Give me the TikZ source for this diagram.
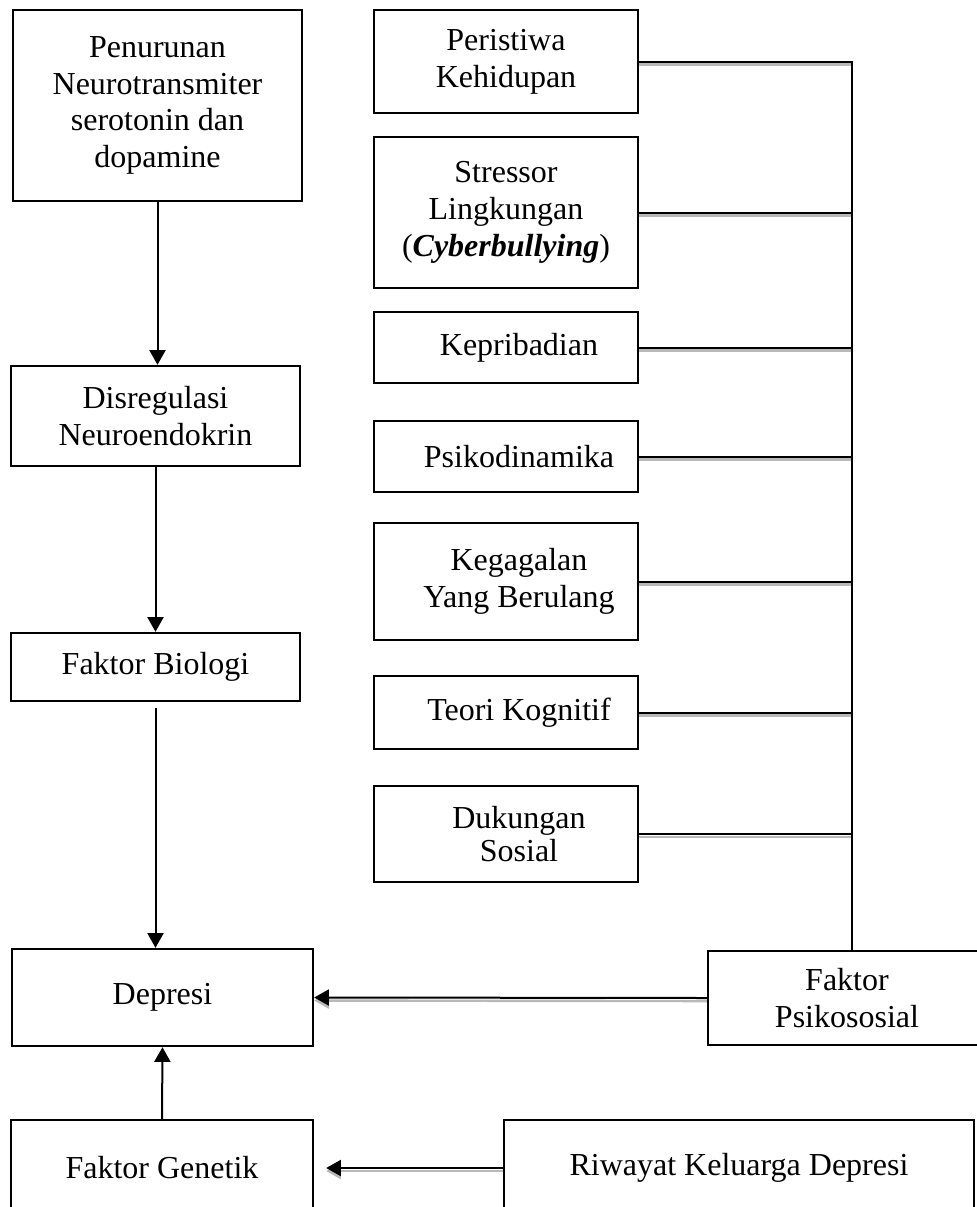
\documentclass[tikz,border=0pt]{standalone}
\usepackage{fontspec}
\setmainfont{Liberation Serif}
\usetikzlibrary{arrows.meta}

\newcommand{\geser}{\hspace*{19.5pt}}

\tikzset{
  kotak/.style 2 args={draw,line width=1.8pt,align=center,inner sep=0pt,font=\fontsize{24}{27.5}\selectfont,minimum width=#1*0.75pt,minimum height=#2*0.75pt},
  panah/.style={line width=1.5pt,-{Triangle[length=11pt,width=12pt]}},
  garis/.style={line width=1.5pt,preaction={draw=gray!55,line width=1.8pt,transform canvas={yshift=-2.3pt}}}
}

\begin{document}
\begin{tikzpicture}[x=0.75pt,y=-0.75pt]
\useasboundingbox (0,0) rectangle (976,1207);
% kolom kiri
\node[kotak={289}{191}] (pen) at (157.5,105.5) {Penurunan\\Neurotransmiter\\serotonin dan\\dopamine};
\node[kotak={289}{100}] (dis) at (155.5,416) {Disregulasi\\Neuroendokrin};
\node[kotak={289}{68}] (bio) at (155.5,667) {Faktor Biologi};
\node[kotak={301}{97}] (dep) at (162.5,997.5) {Depresi};
\node[kotak={302}{96}] (gen) at (162,1168) {Faktor Genetik};
\node[kotak={470}{96}] (riw) at (739,1168) {Riwayat Keluarga Depresi};
\node[kotak={288}{94}] (psi) at (852,998) {\hspace*{-7.5pt}Faktor\\\hspace*{-7.5pt}Psikososial};
% kolom kanan
\node[kotak={264}{103}] (peristiwa) at (506,61.5) {Peristiwa\\Kehidupan};
\node[kotak={264}{151}] (stressor) at (506,212.5) {Stressor\\Lingkungan\\(\textbf{\textit{Cyberbullying}})};
\node[kotak={264}{71}] (kepribadian) at (506,347.5) {\geser Kepribadian};
\node[kotak={264}{71}] (psikodinamika) at (506,456.5) {\geser Psikodinamika};
\node[kotak={264}{117}] (kegagalan) at (506,581.5) {\geser Kegagalan\\\geser Yang Berulang};
\node[kotak={264}{73}] (teori) at (506,712.5) {\geser Teori Kognitif};
\node[kotak={264}{96}] (dukungan) at (506,834) {\geser Dukungan\\[-3pt]\geser Sosial};

\draw[panah] (pen.south) -- (pen.south |- dis.north);
\draw[panah] (dis.south) -- (dis.south |- bio.north);
\draw[panah,shorten <=4.5pt] (bio.south) -- (bio.south |- dep.north);
\draw[panah] (gen.north) -- (dep.south);
\draw[garis,panah] (psi.west) -- (dep.east);
\draw[garis,panah,shorten >=9pt] (riw.west) -- (gen.east);
\foreach \n in {peristiwa,stressor,kepribadian,psikodinamika,kegagalan,teori,dukungan}
  \draw[garis] (\n.east) -- (\n.east -| psi.north);
\draw[line width=1.5pt,line cap=rect] (peristiwa.east -| psi.north) -- (psi.north);
\end{tikzpicture}
\end{document}
